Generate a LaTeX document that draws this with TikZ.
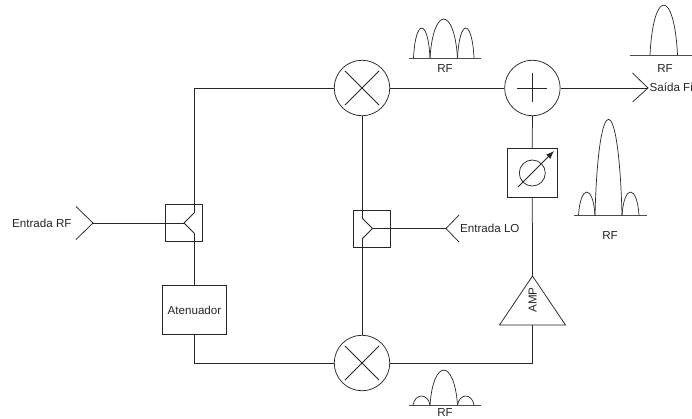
\documentclass[tikz,border=0pt]{standalone}
\usepackage{fontspec}
\usetikzlibrary{arrows.meta}
\setmainfont{Liberation Sans}
\tikzset{
 wire/.style={draw=black!85, line width=0.75pt},
 part/.style={draw=black!85, line width=0.75pt, inner sep=0pt, minimum size=0pt},
 disc/.style={part, circle, minimum size=55.5pt},
 lbl/.style={font=\fontsize{11.6}{13}\selectfont, inner sep=0pt, text=black!85},
 lobe/.style={draw=black!85, line width=0.7pt},
 base/.style={draw=black!70, line width=0.9pt}
}
\newcommand{\lobecurve}[4]{% x0 x1 ybase ypeak
 \path[lobe] (#1,#3) .. controls ({#1+0.12*(#2-#1)},{#3+1.33*(#4-#3)}) and ({#2-0.12*(#2-#1)},{#3+1.33*(#4-#3)}) .. (#2,#3);}
\begin{document}
\begin{tikzpicture}[x=1pt,y=-1pt]
\useasboundingbox (0,0) rectangle (692,418);
% mixers and combiner
\node[disc] (mt) at (362,88) {};
\node[disc] (mb) at (362,363) {};
\node[disc] (sum) at (532.4,88) {};
\draw[wire] (mt.45) ++(-2.7,2.7) coordinate (a1) (mt.225) ++(2.7,-2.7) coordinate (a2);
\draw[wire] (a1) -- (a2);
\draw[wire] (mt.135) ++(2.7,2.7) coordinate (a3) (mt.-45) ++(-2.7,-2.7) coordinate (a4);
\draw[wire] (a3) -- (a4);
\draw[wire] (mb.45) ++(-2.7,2.7) coordinate (b1) (mb.225) ++(2.7,-2.7) coordinate (b2);
\draw[wire] (b1) -- (b2);
\draw[wire] (mb.135) ++(2.7,2.7) coordinate (b3) (mb.-45) ++(-2.7,-2.7) coordinate (b4);
\draw[wire] (b3) -- (b4);
\draw[wire] (517.3,88) coordinate (s1) -- (547.3,88) coordinate (s2);
\draw[wire] (532.5,73) coordinate (s3) -- (532.5,102) coordinate (s4);
% phase shifter
\node[part, minimum width=49.5pt, minimum height=49.5pt] (ph) at (532.3,173) {};
\node[part, circle, minimum size=26pt] (phc) at (532.3,173) {};
\coordinate (pa) at (518,187);
\coordinate (pb) at (554,151);
\draw[wire, -{Latex[length=8pt,width=6pt]}] (pa) -- (pb);
% amp
\coordinate (ampT) at (532.5,276);
\coordinate (ampL) at (499.5,325);
\coordinate (ampR) at (565.5,325);
\coordinate (ampB) at (532.5,325);
\draw[wire] (ampT) -- (ampR) -- (ampL) -- cycle;
\node[lbl, rotate=90] (amp) at (532.5,300) {AMP};
% attenuator
\node[part, minimum width=63.5pt, minimum height=49.5pt, lbl, draw=black!85] (att) at (194.5,310) {Atenuador};
% splitters
\node[part, minimum width=37pt, minimum height=37pt] (sl) at (183.7,223) {};
\node[part, minimum width=37pt, minimum height=37pt] (sr) at (372,228.5) {};
\coordinate (slT) at (184,223);
\coordinate (slA) at (194.5,212.5);
\coordinate (slB) at (194.5,233.5);
\draw[wire] (slA) -- (slT) -- (slB);
\coordinate (srT) at (372.5,228.5);
\coordinate (srA) at (362,218);
\coordinate (srB) at (362,239);
\draw[wire] (srA) -- (srT) -- (srB);
% horns
\coordinate (hlT) at (93,223);
\draw[wire] (76,206.5) -- (hlT) -- (76,239.5);
\coordinate (hrT) at (446,228.5);
\draw[wire] (459,215) -- (hrT) -- (459,242);
\coordinate (hoT) at (648,88);
\draw[wire] (632.5,73) -- (hoT) -- (632.5,102);
% corners
\coordinate (c1) at (194.5,88);
\coordinate (c2) at (194.5,363);
\coordinate (c3) at (532.5,363);
% connectors
\draw[wire] (mt) -- (c1) -- (slA);
\draw[wire] (slB) -- (att.north -| slB);
\draw[wire] (att.south) -- (c2) -- (mb);
\draw[wire] (mb) -- (c3) -- (ampB);
\draw[wire] (ampT) -- (ph.south);
\draw[wire] (ph.north) -- (sum.south);
\draw[wire] (mt) -- (sum);
\draw[wire] (sum) -- (hoT);
\draw[wire] (hlT) -- (slT);
\draw[wire] (hrT) -- (srT);
\draw[wire] (mt.south) -- (srA);
\draw[wire] (srB) -- (mb.north);
% labels
\node[lbl, anchor=west] (ein) at (12,223) {Entrada RF};
\node[lbl, anchor=west] (elo) at (460,228) {Entrada LO};
\node[lbl, anchor=west] (sai) at (649.5,87) {Saída Fi};
\node[lbl] (r1) at (445,69) {RF};
\node[lbl] (r2) at (665,69) {RF};
\node[lbl] (r3) at (610,236) {RF};
\node[lbl] (r4) at (445,412) {RF};
% spectra
\draw[base] (409,58) -- (481,58);
\lobecurve{413.5}{430}{58}{28}
\lobecurve{430}{457.5}{58}{19}
\lobecurve{457.5}{474}{58}{28}
\draw[base] (629.5,55) -- (692,55);
\lobecurve{650}{677.5}{55}{5}
\draw[base] (574,215.3) -- (647,215.3);
\lobecurve{578.5}{595}{215.3}{192}
\lobecurve{595}{622}{215.3}{119}
\lobecurve{622}{639}{215.3}{192}
\draw[base] (409,405) -- (481,405);
\lobecurve{413}{430}{405}{396}
\lobecurve{430}{457.5}{405}{370}
\lobecurve{457.5}{474}{405}{396}
\end{tikzpicture}
\end{document}
